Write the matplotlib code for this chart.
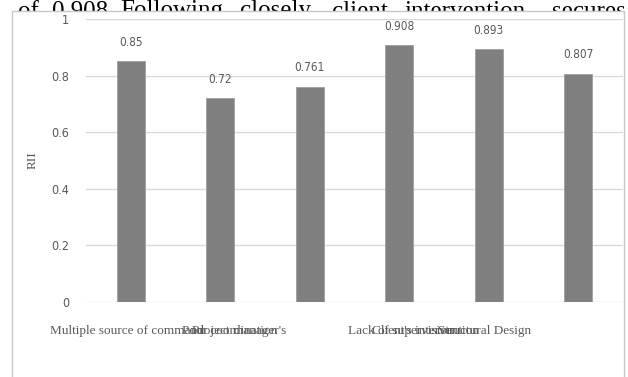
import matplotlib
matplotlib.use("Agg")
import matplotlib.pyplot as plt
from matplotlib.patches import Rectangle

# Relative Importance Index per factor
categories = [
    "Multiple source of command",
    "Poor coordination",
    "Project manager's",
    "Lack of supervision",
    "Client's intervention",
    "Structural Design",
]
rii = [0.85, 0.72, 0.761, 0.908, 0.893, 0.807]
y_ticks = [0, 0.2, 0.4, 0.6, 0.8, 1]
y_tick_labels = ["0", "0.2", "0.4", "0.6", "0.8", "1"]

# Running body text above the chart panel (justified line)
body_words = ["of", "0.908.", "Following", "closely,", "client", "intervention", "secures"]
body_word_x = [18, 52, 120, 240, 332, 404, 552]

W, H = 628, 377
fig = plt.figure(figsize=(W / 100, H / 100), dpi=100)
fig.patch.set_facecolor("white")

def fx(px):
    return px / W

def fy(py):
    return 1 - py / H

# Strip above the panel: the body text line shows only its upper part
strip = fig.add_axes([0, fy(11), 1, 11 / H])
strip.set_axis_off()
strip.set_xlim(0, W)
strip.set_ylim(11, 0)
for word, x in zip(body_words, body_word_x):
    strip.text(x, 17.5, word, fontsize=18, family="Liberation Serif",
               color="black", va="baseline", ha="left", clip_on=True)

# Chart panel
panel = Rectangle((fx(12), -0.02), fx(624) - fx(12), fy(11) + 0.02,
                  transform=fig.transFigure, facecolor="white",
                  edgecolor="#c8c8c8", linewidth=1.0, zorder=2)
fig.add_artist(panel)

ax = fig.add_axes([fx(86), fy(302), fx(623) - fx(86), fy(19) - fy(302)])
ax.set_zorder(3)
ax.patch.set_facecolor("white")

x = list(range(len(rii)))
ax.bar(x, rii, width=0.31, color="#7f7f7f", edgecolor="#a0a0a0",
       linewidth=0.6, zorder=3)

for xi, v in zip(x, rii):
    ax.annotate(f"{v:g}", (xi, v), xytext=(0, 9), textcoords="offset points",
                ha="center", va="bottom", fontsize=8.5, family="DejaVu Sans",
                fontstretch="condensed", color="#595959")

ax.set_xlim(-0.5, len(rii) - 0.5)
ax.set_ylim(0, 1)
ax.set_yticks(y_ticks)
ax.set_yticklabels(y_tick_labels, fontsize=9, fontstretch="condensed",
                   family="DejaVu Sans", color="#595959")
ax.tick_params(axis="y", length=0, pad=12)
ax.set_xticks([])
ax.yaxis.grid(True, color="#d9d9d9", linewidth=1.0, zorder=0)
ax.set_axisbelow(True)
for s in ax.spines.values():
    s.set_visible(False)

ax.set_ylabel("RII", family="Liberation Serif", fontsize=9.5, color="#595959")
ax.yaxis.set_label_coords((39 - 86) / (623 - 86), 0.5)

# Category labels laid out along the bottom of the panel
label_x = [50, 182, 286, 348, 372, 531]
label_ha = ["left", "left", "right", "left", "left", "right"]
for name, lx, ha in zip(categories, label_x, label_ha):
    fig.text(fx(lx), fy(331), name, fontsize=9.5, family="Liberation Serif",
             color="#595959", ha=ha, va="center", zorder=4)

fig.savefig("out.png", dpi=100, facecolor="white")
